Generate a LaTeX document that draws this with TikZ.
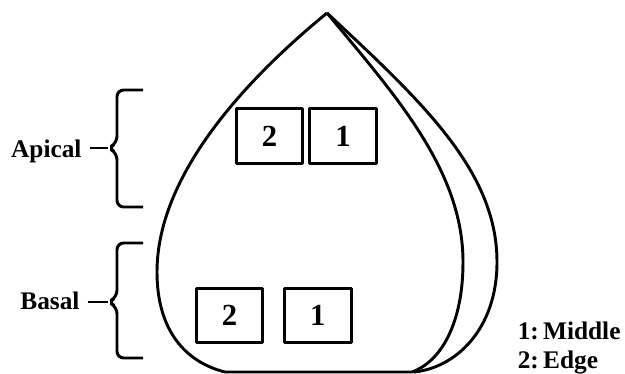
\documentclass[tikz,border=0pt]{standalone}
\usepackage{fontspec}
\setmainfont{Liberation Serif}
\usetikzlibrary{positioning}

\begin{document}
\begin{tikzpicture}[x=0.75pt, y=-0.75pt, line width=2.2pt, line join=round,
  lab/.style={font=\fontsize{19}{21}\selectfont\bfseries, inner sep=0pt},
  zone/.style={draw, minimum width=50pt, minimum height=41pt, inner sep=0pt,
               font=\fontsize{23}{25}\selectfont\bfseries}]
  \useasboundingbox (0,0) rectangle (625,374);
  % leaf outline
  \coordinate (tip) at (327,13);
  \draw (tip) .. controls (255,72) and (157,170) .. (157,272)
        .. controls (157,330) and (185,362) .. (225,372) -- (412,372)
        .. controls (440,362) and (463,325) .. (463,262)
        .. controls (463,170) and (395,95) .. (tip);
  \draw (tip) .. controls (420,100) and (497,170) .. (497,262)
        .. controls (497,330) and (455,368) .. (414,372);
  % sampling zones
  \node[zone] (a2) at (269.5,136) {2};
  \node[zone, right=3pt of a2] (a1) {1};
  \node[zone] (b2) at (229.5,315.5) {2};
  \node[zone, right=14pt of b2] (b1) {1};
  % braces
  \coordinate (atip) at (108,148);
  \coordinate (btip) at (108,302);
  \draw[rounded corners=5pt] (143,90) -- (117,90) -- (117,143) -- (atip)
        -- (117,153) -- (117,207) -- (143,207);
  \draw[rounded corners=5pt] (143,243) -- (117,243) -- (117,297) -- (btip)
        -- (117,307) -- (117,358) -- (143,358);
  \node[lab, anchor=base east] (apical) at (83,158) {Apical};
  \node[lab, anchor=base east] (basal) at (81,310) {Basal};
  \draw ([xshift=5pt]atip -| apical.east) -- (atip);
  \draw ([xshift=5pt]btip -| basal.east) -- (btip);
  % legend
  \node[lab, anchor=base east] (leg1) at (622,339) {1:\,Middle};
  \node[lab, anchor=base west] (leg2) at ([yshift=-21.75pt]leg1.base west) {2:\,Edge};
\end{tikzpicture}
\end{document}
